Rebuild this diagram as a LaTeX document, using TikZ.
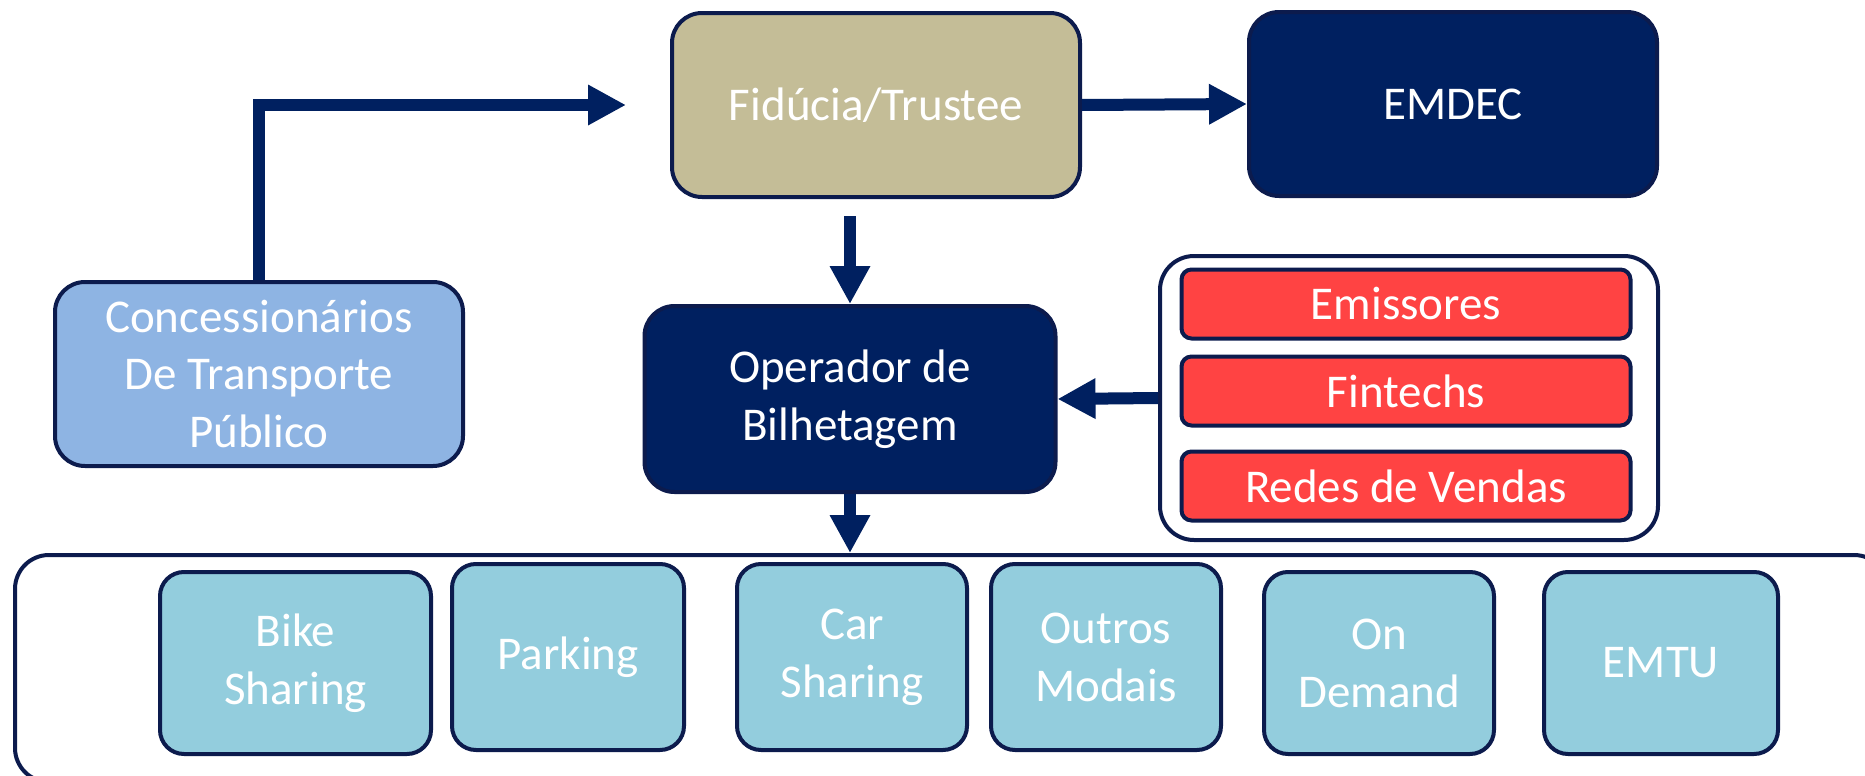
\documentclass[tikz,border=0pt]{standalone}
\usepackage{fontspec}
\setmainfont{Carlito}
\usepackage{tikz}
\usetikzlibrary{arrows.meta}
\usetikzlibrary{positioning}

\definecolor{edgenavy}{HTML}{0C1B4D}
\definecolor{boxnavy}{HTML}{002060}
\definecolor{boxtan}{HTML}{C4BD97}
\definecolor{boxsky}{HTML}{8EB4E3}
\definecolor{boxteal}{HTML}{93CDDD}
\definecolor{boxred}{HTML}{FF4343}

\begin{document}
\begin{tikzpicture}[
		x=0.5pt, y=-0.5pt,
		every node/.style={text=white, align=center, inner sep=0pt, font=\fontsize{23.5}{29}\selectfont},
		box/.style={draw=edgenavy, line width=2pt, rounded corners=15pt, minimum width=204pt, minimum height=92pt},
		modal/.style={box, fill=boxteal, rounded corners=12pt, minimum width=115pt, minimum height=93pt},
		sale/.style={draw=edgenavy, line width=2pt, fill=boxred, rounded corners=5pt, minimum width=224.5pt, minimum height=34.5pt},
		frame/.style={draw=edgenavy, line width=2pt, fill=white},
		arr/.style={draw=boxnavy, line width=6pt, -{Triangle[length=19pt,width=19pt]}}
		]
		\useasboundingbox (0,0) rectangle (1865,776);
		\fill[white] (0,0) rectangle (1865,776);

		% containers
		\node[frame, rounded corners=17pt, minimum width=936.5pt, minimum height=113.5pt] (modais) at (951.5,668.5) {};
		\node[frame, rounded corners=17pt, minimum width=249pt, minimum height=142pt] (grupo) at (1409,398) {};

		% main boxes
		\node[box, fill=boxtan] (fiducia) at (876,105) {Fidúcia/Trustee};
		\node[box, fill=boxnavy] (emdec) at (1453,104) {EMDEC};
		\node[box, fill=boxsky] (conc) at (259,374) {Concessionários\\De Transporte\\Público};
		\node[box, fill=boxnavy, minimum width=205.5pt, minimum height=93pt] (oper) at (850,399) {Operador de\\Bilhetagem};

		% sales
		\node[sale] (emis) at (1406,304) {Emissores};
		\node[sale] (fint) at (1406,391) {Fintechs};
		\node[sale] (redes) at (1406,486) {Redes de Vendas};

		% modes
		\node[modal, minimum width=135.5pt, minimum height=91pt] (bike) at (295.5,663) {Bike\\Sharing};
		\node[modal, minimum width=116pt] (parking) at (568,657) {Parking};
		\node[modal] (car) at (852,657) {Car\\Sharing};
		\node[modal] (outros) at (1106,657) {Outros\\Modais};
		\node[modal, minimum height=91pt] (demand) at (1379,663) {On\\Demand};
		\node[modal, minimum width=117pt, minimum height=91pt] (emtu) at (1661,663) {EMTU};

		% arrows
		\draw[arr, shorten >=22pt] (conc.north) |- (fiducia.west);
		\draw[arr] (fiducia.east) -- (emdec.west);
		\draw[arr, shorten <=8.5pt] (fiducia.south -| oper.north) -- (oper.north);
		\draw[arr] (grupo.west) -- (oper.east);
		\draw[arr] (oper.south) -- (oper.south |- modais.north);
	\end{tikzpicture}
\end{document}
